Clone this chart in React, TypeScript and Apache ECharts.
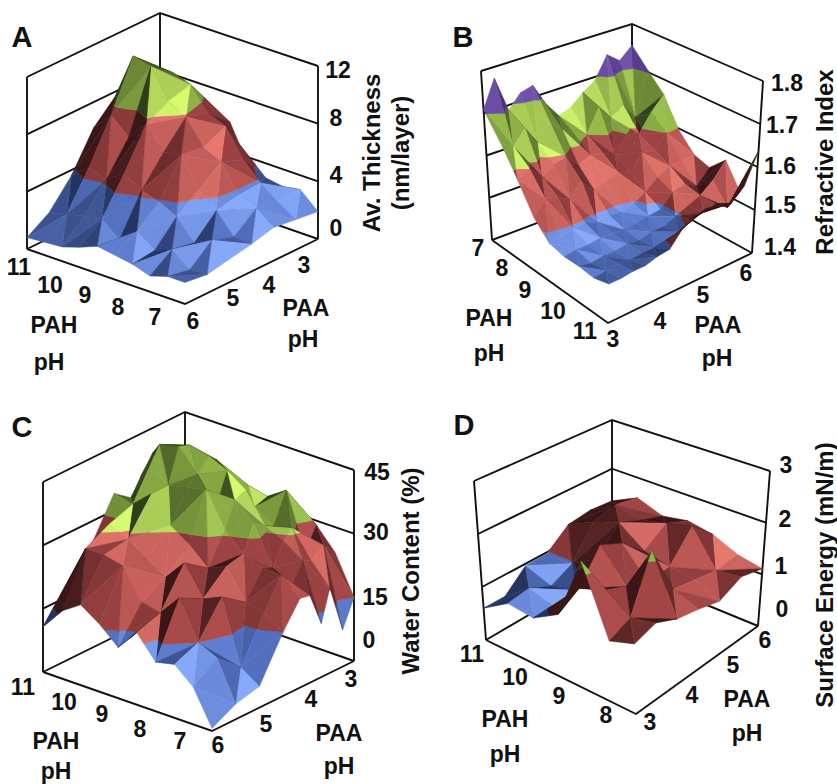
import React, { useEffect, useRef } from "react";
import * as echarts from "echarts";

const thicknessTicks = [0, 4, 8, 12];
const refractiveTicks = [1.4, 1.5, 1.6, 1.7, 1.8];
const waterTicks = [0, 15, 30, 45];
const energyTicks = [0, 1, 2, 3];

// PAH pH runs along rows, PAA pH along columns
const pahA = [11, 10.5, 10, 9.5, 9, 8.5, 8, 7.5, 7, 6.5];
const paaA = [6, 5.5, 5, 4.5, 4, 3.5, 3];
const thicknessA = [
  [0.8, 1.8, 3.6, 6.2, 7.7, 7.5, 5.0],
  [0.9, 2.1, 4.6, 7.5, 10.9, 9.5, 5.5],
  [1.0, 2.4, 4.2, 6.4, 10.6, 9.4, 6.5],
  [1.4, 2.6, 5.0, 7.7, 8.6, 9.0, 6.1],
  [1.9, 1.6, 4.3, 6.2, 7.9, 7.4, 6.0],
  [1.7, 2.6, 3.9, 6.4, 6.2, 6.9, 3.5],
  [1.5, 1.7, 3.3, 4.4, 5.6, 5.0, 3.0],
  [1.1, 2.2, 1.9, 3.4, 3.7, 3.8, 2.8],
  [1.5, 1.2, 2.5, 2.0, 3.2, 2.9, 3.0],
  [1.5, 1.3, 1.6, 1.9, 2.3, 2.1, 1.9],
];

const pahB = [7, 7.5, 8, 8.5, 9, 9.5, 10, 10.5, 11];
const paaB = [3, 3.25, 3.5, 3.75, 4, 4.25, 4.5, 4.75, 5, 5.25, 5.5, 5.75, 6];
const refractiveB = [
  [1.708, 1.774, 1.688, 1.72, 1.728, 1.674, 1.636, 1.646, 1.672, 1.692, 1.744, 1.72, 1.748],
  [1.648, 1.632, 1.664, 1.62, 1.66, 1.632, 1.61, 1.6, 1.655, 1.62, 1.64, 1.6, 1.704],
  [1.584, 1.6, 1.572, 1.59, 1.596, 1.568, 1.58, 1.576, 1.56, 1.6, 1.59, 1.632, 1.664],
  [1.52, 1.55, 1.545, 1.53, 1.56, 1.53, 1.54, 1.55, 1.54, 1.575, 1.57, 1.6, 1.596],
  [1.484, 1.488, 1.496, 1.496, 1.488, 1.492, 1.488, 1.496, 1.512, 1.536, 1.552, 1.552, 1.556],
  [1.476, 1.48, 1.48, 1.484, 1.484, 1.48, 1.484, 1.488, 1.492, 1.52, 1.528, 1.512, 1.544],
  [1.476, 1.472, 1.476, 1.476, 1.48, 1.476, 1.484, 1.484, 1.496, 1.508, 1.52, 1.544, 1.58],
  [1.472, 1.476, 1.48, 1.476, 1.48, 1.48, 1.484, 1.492, 1.508, 1.512, 1.52, 1.5, 1.524],
  [1.48, 1.48, 1.484, 1.484, 1.492, 1.496, 1.528, 1.544, 1.552, 1.544, 1.54, 1.568, 1.636],
];

const pahC = [11, 10.5, 10, 9.5, 9, 8.5, 8, 7.5, 7, 6.5];
const paaC = [6, 5.5, 5, 4.5, 4.14, 3.93, 3.69, 3.51, 3.24, 3];
const waterC = [
  [10.7, 12.6, 24, 34, 31, 35, 39, 39.5, 36, 34],
  [16, 28, 31, 33, 40, 44, 42, 36, 34, 33],
  [19, 28, 29, 37, 37, 45, 44, 40, 33, 33],
  [16, 27, 26, 31, 38, 40, 43, 41, 36, 30],
  [12, 20, 23, 28, 39, 34, 41, 36, 35, 29],
  [17, 19, 28, 24, 31, 37, 38, 33, 34, 31],
  [11.6, 24, 21, 26, 27, 33, 31, 30, 37, 31],
  [12.6, 15, 23, 19, 25, 24, 29, 31, 24, 29],
  [8.8, 13, 8, 18, 25, 21, 26, 25, 27, 24],
  [0.6, 3.6, 5, 15, 21, 20.5, 12.6, 20, 8.6, 15],
];

const pahD = [11, 10.5, 10, 9.5, 9, 8.5, 8];
const paaD = [3, 3.5, 4, 4.5, 5, 5.5, 6];
const energyD = [
  [0.6, 0.6, 0.96, 0.98, 1.32, 1.38, 1.34],
  [0.9, 0.96, 0.78, 0.98, 1.56, 1.68, 1.59],
  [0.84, 0.81, 0.9, 1.26, 1.74, 1.56, 1.41],
  [1.1, 1.35, 1.92, 1.74, 1.38, 1.68, 1.5],
  [2.2, 1.5, 1.35, 1.2, 1.26, 1.8, 1.41],
  [1.02, 1.2, 2.15, 1.26, 1.2, 1.14, 1.2],
  [1.155, 1.29, 1.14, 1.08, 0.99, 1.2, 1.11],
];

type Pt = [number, number];
type RGB = [number, number, number];
const BLUE: RGB[] = [[36, 52, 96], [88, 118, 200], [136, 170, 250]];
const RED: RGB[] = [[58, 22, 22], [160, 68, 68], [230, 120, 110]];
const GREEN: RGB[] = [[48, 62, 26], [142, 178, 70], [214, 250, 112]];
const PURPLE: RGB[] = [[54, 34, 106], [104, 74, 160], [136, 106, 196]];

const panels = [
  {
    name: "A", ticks: thicknessTicks, rows: pahA, cols: paaA, z: thicknessA, colors: [BLUE, RED, GREEN],
    floor: [[27, 249], [185, 304], [160, 184], [318, 239]] as Pt[],
    top: [[27, 77], [185, 132], [160, 13], [318, 66]] as Pt[],
  },
  {
    name: "B", ticks: refractiveTicks, rows: pahB, cols: paaB, z: refractiveB, colors: [BLUE, RED, GREEN, PURPLE],
    floor: [[492, 240], [608, 323], [632, 187], [752, 253]] as Pt[],
    top: [[481, 71], [612, 128], [632, 24], [763, 81]] as Pt[],
  },
  {
    name: "C", ticks: waterTicks, rows: pahC, cols: paaC, z: waterC, colors: [BLUE, RED, GREEN],
    floor: [[43, 672], [212, 731], [185, 602], [354, 661]] as Pt[],
    top: [[43, 482], [212, 540], [185, 412], [354, 470]] as Pt[],
  },
  {
    name: "D", ticks: energyTicks, rows: pahD, cols: paaD, z: energyD, colors: [BLUE, RED, GREEN],
    floor: [[486, 640], [636, 714], [612, 566], [758, 626]] as Pt[],
    top: [[474, 481], [632, 532], [612, 420], [770, 471]] as Pt[],
  },
];

type Label = [string, number, number];
const FONT = "Liberation Sans";
const panelLetters: Label[] = [["A", 22, 37], ["B", 463, 37], ["C", 22, 427], ["D", 464, 425]];
const smallLabels: Label[] = [
  ["12", 338, 70], ["8", 336, 118], ["4", 336, 175], ["0", 336, 228],
  ["11", 19, 267], ["10", 50, 285], ["9", 85, 295], ["8", 118, 307], ["7", 155, 317], ["6", 193, 321],
  ["5", 233, 298], ["4", 269, 285], ["3", 304, 265],
  ["PAA", 306, 308], ["pH", 303, 339], ["PAH", 54, 325], ["pH", 49, 362],
  ["1.8", 787, 83], ["1.7", 782, 125], ["1.6", 780, 166], ["1.5", 780, 205], ["1.4", 780, 247],
  ["7", 478, 248], ["8", 502, 268], ["9", 525, 290], ["10", 553, 311], ["11", 585, 331],
  ["3", 613, 339], ["4", 660, 321], ["5", 703, 295], ["6", 746, 273],
  ["PAA", 718, 325], ["pH", 717, 358], ["PAH", 489, 318], ["pH", 489, 353],
  ["45", 377, 472], ["30", 376, 532], ["15", 375, 597], ["0", 369, 640],
  ["11", 23, 687], ["10", 64, 702], ["9", 102, 714], ["8", 140, 729], ["7", 180, 741],
  ["6", 218, 745], ["5", 266, 724], ["4", 311, 699], ["3", 351, 679],
  ["PAA", 339, 733], ["pH", 339, 766], ["PAH", 56, 741], ["pH", 56, 771],
  ["3", 786, 465], ["2", 785, 519], ["1", 781, 566], ["0", 782, 609],
  ["11", 472, 654], ["10", 515, 677], ["9", 559, 696], ["8", 606, 715],
  ["3", 650, 722], ["4", 692, 695], ["5", 733, 665], ["6", 765, 640],
  ["PAA", 747, 699], ["pH", 747, 733], ["PAH", 505, 719], ["pH", 505, 754],
];
const axisTitles: Label[] = [
  ["Av. Thickness", 371, 153], ["(nm/layer)", 400, 153], ["Refractive Index", 824, 162],
  ["Water Content (%)", 410, 571], ["Surface Energy (mN/m)", 824, 575],
];

type P = (typeof panels)[number];
const bil = (c: Pt[], u: number, v: number): Pt => [
  (1 - v) * ((1 - u) * c[0][0] + u * c[1][0]) + v * ((1 - u) * c[2][0] + u * c[3][0]),
  (1 - v) * ((1 - u) * c[0][1] + u * c[1][1]) + v * ((1 - u) * c[2][1] + u * c[3][1]),
];
const project = (p: P, u: number, v: number, w: number): Pt => {
  const a = bil(p.floor, u, v);
  const b = bil(p.top, u, v);
  return [a[0] + (b[0] - a[0]) * w, a[1] + (b[1] - a[1]) * w];
};
const mix = (a: RGB, b: RGB, t: number): string => {
  const k = Math.max(0, Math.min(1, t));
  return `rgb(${a.map((x, i) => Math.round(x + (b[i] - x) * k)).join(",")})`;
};
const shade = (ramp: RGB[], t: number) =>
  t < 0.8 ? mix(ramp[0], ramp[1], (t - 0.12) / 0.68) : mix(ramp[1], ramp[2], (t - 0.8) / 0.18);

type V3 = [number, number, number];
const clip = (poly: V3[], lim: number, keepAbove: boolean): V3[] => {
  const out: V3[] = [];
  for (let k = 0; k < poly.length; k++) {
    const a = poly[k];
    const b = poly[(k + 1) % poly.length];
    const ia = keepAbove ? a[2] >= lim : a[2] <= lim;
    const ib = keepAbove ? b[2] >= lim : b[2] <= lim;
    if (ia) out.push(a);
    if (ia !== ib) {
      const t = (lim - a[2]) / (b[2] - a[2]);
      out.push([a[0] + (b[0] - a[0]) * t, a[1] + (b[1] - a[1]) * t, lim]);
    }
  }
  return out;
};

const LIGHT: V3 = [0.68, -0.31, 0.66];
const Z_GAIN = 2.2;

function cellChildren(p: P, i: number, j: number, api: any) {
  const r0 = p.rows[0], rN = p.rows[p.rows.length - 1];
  const c0 = p.cols[0], cN = p.cols[p.cols.length - 1];
  const zMin = p.ticks[0], zMax = p.ticks[p.ticks.length - 1];
  const node = (a: number, b: number): V3 => [
    (p.rows[a] - r0) / (rN - r0),
    (p.cols[b] - c0) / (cN - c0),
    (p.z[a][b] - zMin) / (zMax - zMin),
  ];
  const n00 = node(i, j), n10 = node(i + 1, j), n01 = node(i, j + 1), n11 = node(i + 1, j + 1);
  const tris: V3[][] = (i + j) % 2 === 0
    ? [[n00, n01, n11], [n00, n11, n10]]
    : [[n00, n01, n10], [n01, n11, n10]];
  tris.sort((a, b) => (a[0][0] + a[1][0] + a[2][0] - a[0][1] - a[1][1] - a[2][1]) -
    (b[0][0] + b[1][0] + b[2][0] - b[0][1] - b[1][1] - b[2][1]));
  const out: any[] = [];
  tris.forEach((t) => {
    const e1 = [t[1][0] - t[0][0], t[1][1] - t[0][1], (t[1][2] - t[0][2]) * Z_GAIN];
    const e2 = [t[2][0] - t[0][0], t[2][1] - t[0][1], (t[2][2] - t[0][2]) * Z_GAIN];
    let n = [e1[1] * e2[2] - e1[2] * e2[1], e1[2] * e2[0] - e1[0] * e2[2], e1[0] * e2[1] - e1[1] * e2[0]];
    if (n[2] < 0) n = n.map((x) => -x);
    const len = Math.hypot(n[0], n[1], n[2]) || 1;
    const lit = (n[0] * LIGHT[0] + n[1] * LIGHT[1] + n[2] * LIGHT[2]) / len;
    p.colors.forEach((ramp, b) => {
      const lo = b / p.colors.length;
      const hi = (b + 1) / p.colors.length;
      let poly = clip(t, lo, true);
      if (b < p.colors.length - 1 && poly.length) poly = clip(poly, hi, false);
      if (poly.length < 3) return;
      const fill = shade(ramp, lit);
      out.push({
        type: "polygon",
        shape: { points: poly.map((q) => api.coord(project(p, q[0], q[1], q[2]))) },
        style: { fill, stroke: fill, lineWidth: 0.5 },
      });
    });
  });
  return out;
}

function frameChildren(p: P, api: any) {
  const line = (pts: Pt[]) => ({
    type: "polyline",
    shape: { points: pts.map((q) => api.coord(q)) },
    style: { stroke: "#111", lineWidth: 1.9, fill: "none" },
  });
  const out: any[] = [];
  const n = p.ticks.length - 1;
  p.ticks.forEach((_, k) => {
    const w = k / n;
    out.push(line([project(p, 0, 0, w), project(p, 0, 1, w), project(p, 1, 1, w)]));
  });
  out.push(line([project(p, 0, 0, 0), project(p, 1, 0, 0), project(p, 1, 1, 0)]));
  out.push(line([project(p, 0, 0, 0), project(p, 0, 0, 1)]));
  out.push(line([project(p, 0, 1, 0), project(p, 0, 1, 1)]));
  out.push(line([project(p, 1, 1, 0), project(p, 1, 1, 1)]));
  return out;
}

function buildSeries() {
  const series: any[] = [];
  panels.forEach((p) => {
    series.push({
      type: "custom", name: `${p.name} frame`, coordinateSystem: "cartesian2d", clip: false, silent: true,
      data: [[0, 0]],
      renderItem: (_: any, api: any) => ({ type: "group", children: frameChildren(p, api) }),
    });
    const cells: number[][] = [];
    for (let i = 0; i < p.rows.length - 1; i++)
      for (let j = p.cols.length - 2; j >= 0; j--) cells.push([i, j]);
    series.push({
      type: "custom", name: `${p.name} surface`, coordinateSystem: "cartesian2d", clip: false, silent: true,
      data: cells,
      renderItem: (_: any, api: any) => ({
        type: "group",
        children: cellChildren(p, api.value(0), api.value(1), api),
      }),
    });
  });
  return series;
}

const text = (l: Label, size: number, rotation = 0) => ({
  type: "text", x: l[1], y: l[2], rotation, silent: true,
  style: {
    text: l[0], fill: "#111", fontFamily: FONT, fontWeight: "bold", fontSize: size,
    align: "center", verticalAlign: "middle",
  },
});

export default function App() {
  const ref = useRef<HTMLDivElement>(null);
  useEffect(() => {
    document.body.style.margin = "0";
    const chart = echarts.init(ref.current!, undefined, { renderer: "svg" });
    chart.setOption({
      animation: false,
      backgroundColor: "#ffffff",
      grid: { left: 0, right: 0, top: 0, bottom: 0 },
      xAxis: { type: "value", min: 0, max: 837, show: false },
      yAxis: { type: "value", min: 0, max: 784, inverse: true, show: false },
      series: buildSeries(),
      graphic: [
        ...panelLetters.map((l) => text(l, 29)),
        ...smallLabels.map((l) => text(l, 23)),
        ...axisTitles.map((l) => text(l, 24, Math.PI / 2)),
      ],
    });
    return () => chart.dispose();
  }, []);
  return <div ref={ref} style={{ width: 837, height: 784 }} />;
}
